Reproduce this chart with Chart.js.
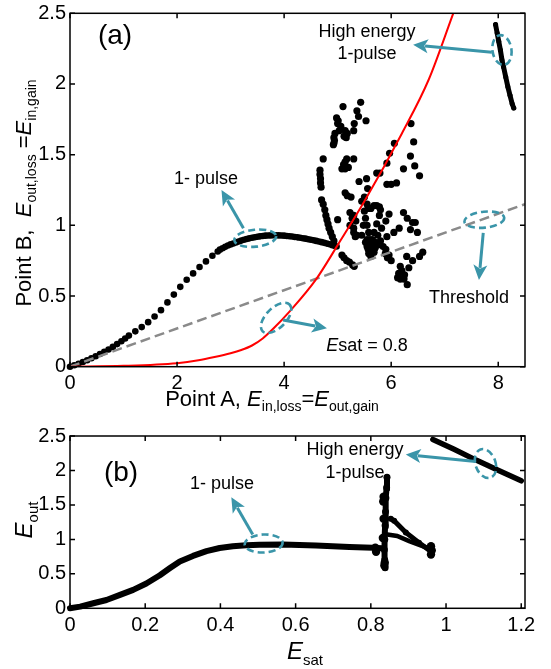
<!DOCTYPE html>
<html>
<head>
<meta charset="utf-8">
<script src="https://cdn.jsdelivr.net/npm/chart.js@4.4.1/dist/chart.umd.min.js"></script>
<style>
  body { margin: 0; background: #fff; }
  #wrap { position: relative; width: 551px; height: 669px; font-family: 'Liberation Sans', Arial, sans-serif; color: #000; }
  canvas { position: absolute; left: 0; }
  .lbl { position: absolute; white-space: nowrap; transform: translate(-50%, -50%); font-size: 18px; line-height: 1; }
  .big { font-size: 28px; }
  .ttl { font-size: 22px; }
  .ttl .s { font-size: 14px; position: relative; top: 5px; }
  .sym { font-size: 24px; }
  .sym .s { font-size: 15px; position: relative; top: 6px; }
  .rot { transform: translate(-50%, -50%) rotate(-90deg); }
</style>
</head>
<body>
<div id="wrap">
  <canvas id="chartA" width="551" height="400" style="top:0"></canvas>
  <canvas id="chartB" width="551" height="235" style="top:420px"></canvas>

  <div class="lbl big" style="left:115px; top:35px">(a)</div>
  <div class="lbl" style="left:206px; top:178px">1- pulse</div>
  <div class="lbl" style="left:367px; top:31px">High energy</div>
  <div class="lbl" style="left:367px; top:53px">1-pulse</div>
  <div class="lbl" style="left:469px; top:297px">Threshold</div>
  <div class="lbl" style="left:367px; top:345px"><i>E</i>sat = 0.8</div>
  <div class="lbl ttl" style="left:272px; top:399px">Point A, <i>E</i><span class="s">in,loss</span>=<i>E</i><span class="s">out,gain</span></div>
  <div class="lbl ttl rot" style="left:24px; top:193px">Point B,&nbsp; <i>E</i><span class="s">out,loss</span> =<i>E</i><span class="s">in,gain</span></div>

  <div class="lbl big" style="left:121px; top:472px">(b)</div>
  <div class="lbl" style="left:222px; top:483px">1- pulse</div>
  <div class="lbl" style="left:355px; top:449px">High energy</div>
  <div class="lbl" style="left:355px; top:472px">1-pulse</div>
  <div class="lbl sym" style="left:305px; top:651px"><i>E</i><span class="s">sat</span></div>
  <div class="lbl sym rot" style="left:24px; top:520px"><i>E</i><span class="s">out</span></div>
</div>

<script>
// ---- panel (a): point A vs point B energies ----
const xTicksA = [0, 2, 4, 6, 8];
const yTicksA = [0, 0.5, 1, 1.5, 2, 2.5];

// single pulse branch
const pulseA = [
  [0, 0], [0.08, 0.01], [0.16, 0.021], [0.24, 0.033], [0.32, 0.046], [0.4, 0.06], [0.48, 0.074],
  [0.56, 0.09], [0.64, 0.105], [0.72, 0.122], [0.8, 0.14], [0.88, 0.16], [0.96, 0.18], [1.03, 0.2],
  [1.1, 0.22], [1.22, 0.25], [1.34, 0.28], [1.46, 0.315], [1.58, 0.355], [1.7, 0.4], [1.82, 0.455],
  [1.94, 0.51], [2.06, 0.565], [2.18, 0.615], [2.3, 0.66], [2.42, 0.705], [2.54, 0.745], [2.66, 0.785],
  [2.76, 0.815], [2.8, 0.828], [2.85, 0.838], [2.9, 0.848], [2.95, 0.857], [3.0, 0.865], [3.05, 0.872],
  [3.1, 0.879], [3.15, 0.886], [3.2, 0.892], [3.25, 0.898], [3.3, 0.903], [3.35, 0.908], [3.4, 0.912],
  [3.45, 0.916], [3.5, 0.919], [3.55, 0.922], [3.6, 0.925], [3.65, 0.927], [3.7, 0.928], [3.75, 0.929],
  [3.8, 0.93], [3.85, 0.93], [3.9, 0.929], [3.95, 0.928], [4.0, 0.927], [4.05, 0.925], [4.1, 0.923],
  [4.15, 0.921], [4.2, 0.918], [4.25, 0.915], [4.3, 0.912], [4.35, 0.909], [4.4, 0.906], [4.45, 0.902],
  [4.5, 0.898], [4.55, 0.894], [4.6, 0.89], [4.65, 0.886], [4.7, 0.881], [4.75, 0.876], [4.8, 0.871],
  [4.85, 0.866], [4.9, 0.86], [4.95, 0.854], [4.98, 0.85]
];

// unstable region
const cloudA = [
  [5.10, 1.84], [5.43, 1.87], [5.36, 1.81], [5.53, 1.74], [5.39, 1.77], [5.31, 1.72],
  [4.98, 1.76], [5.01, 1.74], [5.00, 1.72], [5.06, 1.70], [5.03, 1.67], [4.95, 1.65], [4.93, 1.62],
  [4.94, 1.60], [4.93, 1.58], [4.92, 1.57],
  [5.14, 1.67], [5.18, 1.65], [5.12, 1.63], [5.16, 1.62], [5.30, 1.67],
  [4.73, 1.47], [4.67, 1.39], [4.67, 1.36], [4.68, 1.33], [4.68, 1.30], [4.69, 1.27],
  [5.17, 1.47], [5.14, 1.45], [5.11, 1.43], [5.08, 1.40], [5.14, 1.40], [5.20, 1.41], [5.30, 1.47],
  [5.40, 1.31], [5.54, 1.33], [5.56, 1.26],
  [5.97, 1.51], [5.92, 1.44], [5.79, 1.37], [5.73, 1.37], [6.06, 1.58], [6.23, 1.40],
  [5.92, 1.29], [6.00, 1.29], [6.10, 1.30],
  [6.37, 1.72], [6.42, 1.59], [6.36, 1.49], [6.44, 1.42], [6.53, 1.35],
  [5.14, 1.23], [5.18, 1.21], [5.25, 1.20],
  [5.50, 1.20], [5.45, 1.17], [5.55, 1.15], [5.57, 1.12], [5.62, 1.12], [5.68, 1.14], [5.73, 1.14],
  [5.78, 1.13], [5.80, 1.11],
  [4.70, 1.18], [4.73, 1.15], [4.76, 1.11], [4.78, 1.07], [4.80, 1.04], [4.82, 1.01], [4.84, 0.98],
  [4.87, 0.95], [4.90, 0.92], [4.93, 0.89],
  [5.00, 1.04], [5.30, 1.07], [5.27, 1.05], [5.34, 1.03],
  [5.23, 1.00], [5.30, 0.95], [5.36, 0.93], [5.45, 0.93], [5.48, 1.00],
  [5.55, 0.90], [5.60, 0.90], [5.65, 0.90], [5.70, 0.88], [5.55, 0.85], [5.60, 0.84], [5.65, 0.83],
  [5.70, 0.84], [5.58, 0.80], [5.63, 0.80], [5.68, 0.81], [5.60, 0.87], [5.66, 0.86], [5.52, 0.88],
  [5.74, 0.86], [5.62, 0.78], [5.57, 0.83],
  [5.58, 0.95], [5.55, 1.00], [5.52, 1.05], [5.50, 1.10], [5.68, 0.95], [5.73, 1.01], [5.78, 1.07],
  [5.75, 0.93], [5.82, 0.98], [5.90, 1.03], [5.96, 1.08], [5.80, 0.89], [5.92, 0.92], [6.05, 0.95],
  [6.15, 0.98],
  [5.23, 1.09], [5.28, 1.05], [5.30, 0.98], [5.33, 0.92],
  [5.08, 0.79], [5.12, 0.77], [5.17, 0.75], [5.22, 0.74], [5.28, 0.72], [5.31, 0.71],
  [5.89, 0.80], [5.93, 0.77], [6.00, 0.75], [5.96, 0.79], [5.85, 0.85], [5.90, 0.83],
  [6.29, 0.78], [6.53, 0.78], [6.59, 0.81],
  [6.23, 1.09], [6.30, 1.05], [6.36, 0.97], [6.45, 1.02], [6.49, 0.95], [6.40, 1.02],
  [6.17, 0.71], [6.20, 0.68], [6.14, 0.66], [6.12, 0.63], [6.17, 0.62], [6.24, 0.62], [6.30, 0.58],
  [6.25, 0.65], [6.40, 0.75], [6.33, 0.70]
];

// high energy single pulse branch
const highA = [
  [7.95, 2.42], [7.98, 2.36], [8.01, 2.3], [8.04, 2.24], [8.07, 2.17], [8.1, 2.12],
  [8.14, 2.05], [8.18, 1.98], [8.22, 1.92], [8.26, 1.86], [8.29, 1.83]
];

// saturable gain curve, Esat = 0.8
const esatA = [
  [0, 0], [1, 0.006], [2, 0.025], [2.4, 0.045], [2.7, 0.068], [3.0, 0.095], [3.2, 0.118],
  [3.4, 0.15], [3.6, 0.2], [3.8, 0.27], [4.1, 0.39], [4.6, 0.62], [5.0, 0.86], [5.5, 1.17],
  [6.2, 1.65], [6.7, 2.03], [7.16, 2.5]
];

const thresholdA = [[0, 0], [8.5, 1.15]];

// ---- panel (b): output energy vs saturation energy ----
const xTicksB = [0, 0.2, 0.4, 0.6, 0.8, 1, 1.2];
const yTicksB = [0, 0.5, 1, 1.5, 2, 2.5];

const pulseB = [
  [0, 0], [0.027, 0.024], [0.062, 0.073], [0.097, 0.12], [0.133, 0.195], [0.168, 0.268],
  [0.203, 0.36], [0.239, 0.48], [0.265, 0.58], [0.292, 0.68], [0.327, 0.76], [0.363, 0.83],
  [0.398, 0.875], [0.433, 0.9], [0.469, 0.915], [0.504, 0.922], [0.566, 0.925], [0.654, 0.91],
  [0.743, 0.89], [0.805, 0.88], [0.83, 0.87]
];
const spikeB = [
  [0.838, 0.59], [0.837, 0.7], [0.836, 0.85], [0.837, 1.0], [0.838, 1.2], [0.839, 1.4],
  [0.84, 1.6], [0.842, 1.75], [0.843, 1.9]
];
const blobsB = [
  [0.812, 0.88], [0.814, 0.82], [0.834, 1.62], [0.833, 1.55], [0.834, 1.3], [0.832, 1.02],
  [0.836, 0.62], [0.837, 0.66], [0.96, 0.78], [0.962, 0.84], [0.96, 0.9]
];
const streakUpB = [[0.853, 1.3], [0.862, 1.27], [0.893, 1.1], [0.928, 0.95], [0.959, 0.83]];
const streakLowB = [[0.844, 1.07], [0.87, 1.05], [0.902, 0.975], [0.959, 0.86]];
const highB = [[0.965, 2.45], [1.02, 2.31], [1.08, 2.15], [1.14, 2.0], [1.2, 1.85]];

const teal = '#3a95a9';
const pts = a => a.map(([x, y]) => ({ x, y }));

// box around the plot with inward ticks on every side
const frame = {
  id: 'frame',
  afterDatasetsDraw(chart) {
    const { ctx, chartArea: a, scales: { x, y } } = chart;
    ctx.save();
    ctx.strokeStyle = '#000';
    ctx.lineWidth = 1.5;
    ctx.strokeRect(a.left, a.top, a.right - a.left, a.bottom - a.top);
    ctx.beginPath();
    x.ticks.forEach(t => {
      const px = x.getPixelForValue(t.value);
      ctx.moveTo(px, a.bottom); ctx.lineTo(px, a.bottom - 5);
      ctx.moveTo(px, a.top); ctx.lineTo(px, a.top + 5);
    });
    y.ticks.forEach(t => {
      const py = y.getPixelForValue(t.value);
      ctx.moveTo(a.left, py); ctx.lineTo(a.left + 5, py);
      ctx.moveTo(a.right, py); ctx.lineTo(a.right - 5, py);
    });
    ctx.stroke();
    ctx.restore();
  }
};

// dashed ellipses and arrows, anchored in data units
function callouts(ellipses, arrows) {
  return {
    id: 'callouts',
    afterDraw(chart) {
      const { ctx, scales: { x, y } } = chart;
      ctx.save();
      ctx.strokeStyle = teal;
      ctx.fillStyle = teal;
      ctx.lineWidth = 2.6;
      ctx.setLineDash([7, 4]);
      ellipses.forEach(e => {
        ctx.beginPath();
        ctx.ellipse(x.getPixelForValue(e.x), y.getPixelForValue(e.y), e.rx, e.ry, e.rot || 0, 0, Math.PI * 2);
        ctx.stroke();
      });
      ctx.setLineDash([]);
      ctx.lineWidth = 3;
      arrows.forEach(a => {
        const x0 = x.getPixelForValue(a.from[0]), y0 = y.getPixelForValue(a.from[1]);
        const x1 = x.getPixelForValue(a.to[0]), y1 = y.getPixelForValue(a.to[1]);
        const ang = Math.atan2(y1 - y0, x1 - x0);
        const hl = 15, hw = 7;
        ctx.beginPath();
        ctx.moveTo(x0, y0);
        ctx.lineTo(x1 - Math.cos(ang) * hl * 0.8, y1 - Math.sin(ang) * hl * 0.8);
        ctx.stroke();
        ctx.beginPath();
        ctx.moveTo(x1, y1);
        ctx.lineTo(x1 - Math.cos(ang) * hl - Math.sin(ang) * hw, y1 - Math.sin(ang) * hl + Math.cos(ang) * hw);
        ctx.lineTo(x1 - Math.cos(ang) * hl * 0.75, y1 - Math.sin(ang) * hl * 0.75);
        ctx.lineTo(x1 - Math.cos(ang) * hl + Math.sin(ang) * hw, y1 - Math.sin(ang) * hl - Math.cos(ang) * hw);
        ctx.closePath();
        ctx.fill();
      });
      ctx.restore();
    }
  };
}

Chart.defaults.font.family = "'Liberation Sans', Arial, sans-serif";
Chart.defaults.color = '#000';

function axes(xMax, yMax, xTicks, yTicks, xHeight) {
  const zeroPad = s => { s.paddingLeft = 0; s.paddingRight = 0; s.paddingTop = 0; s.paddingBottom = 0; };
  const tickOpts = { font: { size: 20 }, color: '#000', autoSkip: false, maxRotation: 0, callback: v => String(v) };
  return {
    x: {
      type: 'linear', min: 0, max: xMax,
      afterBuildTicks: s => { s.ticks = xTicks.map(v => ({ value: v })); },
      afterFit: s => { s.height = xHeight; zeroPad(s); },
      grid: { display: false, drawTicks: false },
      border: { display: false },
      ticks: { ...tickOpts, padding: 5 }
    },
    y: {
      type: 'linear', min: 0, max: yMax,
      afterBuildTicks: s => { s.ticks = yTicks.map(v => ({ value: v })); },
      afterFit: s => { s.width = 70; zeroPad(s); },
      grid: { display: false, drawTicks: false },
      border: { display: false },
      ticks: { ...tickOpts, padding: 4 }
    }
  };
}

const common = {
  responsive: false,
  animation: false,
  events: [],
  plugins: { legend: { display: false }, tooltip: { enabled: false } }
};

new Chart(document.getElementById('chartA'), {
  type: 'scatter',
  data: {
    datasets: [
      { data: pts(esatA), showLine: true, borderColor: '#ff0000', borderWidth: 2, pointRadius: 0,
        cubicInterpolationMode: 'monotone' },
      { data: pts(thresholdA), showLine: true, borderColor: '#8a8a8a', borderWidth: 2.5, borderDash: [10, 5],
        pointRadius: 0 },
      { data: pts(highA), showLine: true, borderColor: '#000', borderWidth: 5, borderCapStyle: 'round',
        pointRadius: 2.5, pointBackgroundColor: '#000', pointBorderWidth: 0 },
      { data: pts(cloudA), pointRadius: 3.6, backgroundColor: '#000', pointBorderWidth: 0 },
      { data: pts(pulseA), pointRadius: 3.3, backgroundColor: '#000', pointBorderWidth: 0, clip: false }
    ]
  },
  options: {
    ...common,
    layout: { padding: { top: 13.3, right: 26, bottom: 0, left: 0 } },
    scales: axes(8.5, 2.5, xTicksA, yTicksA, 33.3)
  },
  plugins: [frame, callouts(
    [
      { x: 3.46, y: 0.909, rx: 21, ry: 8.5, rot: -0.1 },
      { x: 8.07, y: 2.24, rx: 9.5, ry: 15, rot: -0.15 },
      { x: 7.74, y: 1.04, rx: 20, ry: 8, rot: -0.1 },
      { x: 3.85, y: 0.345, rx: 19, ry: 10, rot: -Math.PI / 4 }
    ],
    [
      { from: [3.24, 0.98], to: [2.83, 1.25] },
      { from: [7.88, 2.225], to: [6.41, 2.277] },
      { from: [7.72, 0.946], to: [7.64, 0.614] },
      { from: [3.98, 0.33], to: [4.80, 0.272] }
    ]
  )]
});

new Chart(document.getElementById('chartB'), {
  type: 'scatter',
  data: {
    datasets: [
      { data: pts(pulseB), showLine: true, borderColor: '#000', borderWidth: 6, borderJoinStyle: 'round',
        borderCapStyle: 'round', pointRadius: 0, clip: false },
      { data: pts(spikeB), showLine: true, borderColor: '#000', borderWidth: 6, borderCapStyle: 'round',
        pointRadius: 3.5, pointBackgroundColor: '#000', pointBorderWidth: 0 },
      { data: pts(blobsB), pointRadius: 4.2, backgroundColor: '#000', pointBorderWidth: 0 },
      { data: pts(streakUpB), showLine: true, borderColor: '#000', borderWidth: 5, borderCapStyle: 'round',
        pointRadius: 3, pointBackgroundColor: '#000', pointBorderWidth: 0 },
      { data: pts(streakLowB), showLine: true, borderColor: '#000', borderWidth: 4.5, borderCapStyle: 'round',
        pointRadius: 0 },
      { data: pts(highB), showLine: true, borderColor: '#000', borderWidth: 5.5, borderCapStyle: 'round',
        pointRadius: 0 }
    ]
  },
  options: {
    ...common,
    layout: { padding: { top: 16, right: 26, bottom: 0, left: 0 } },
    scales: axes(1.21, 2.5, xTicksB, yTicksB, 46.7)
  },
  plugins: [frame, callouts(
    [
      { x: 0.515, y: 0.94, rx: 19, ry: 9, rot: -0.05 },
      { x: 1.105, y: 2.1, rx: 10, ry: 15, rot: -0.35 }
    ],
    [
      { from: [0.486, 1.07], to: [0.429, 1.61] },
      { from: [1.079, 2.13], to: [0.893, 2.23] }
    ]
  )]
});
</script>
</body>
</html>
